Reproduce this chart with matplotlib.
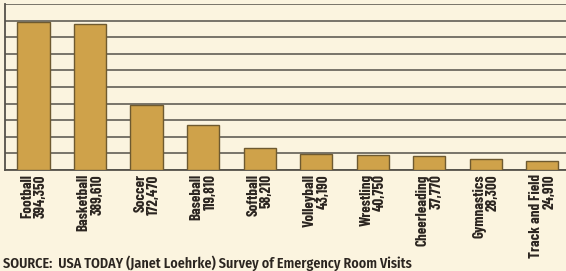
import matplotlib
matplotlib.use("Agg")
import matplotlib.pyplot as plt
import numpy as np
from matplotlib.ticker import MultipleLocator

sports = ["Football", "Basketball", "Soccer", "Baseball", "Softball",
          "Volleyball", "Wrestling", "Cheerleading", "Gymnastics", "Track and Field"]
visits = [394350, 389610, 172470, 119810, 58210, 43190, 40750, 37770, 28300, 24910]
value_labels = ["394,350", "389,610", "172,470", "119,810", "58,210",
                "43,190", "40,750", "37,770", "28,300", "24,910"]
source_text = "SOURCE:  USA TODAY (Janet Loehrke) Survey of Emergency Room Visits"

W, H = 566, 271
dpi = 100
bg = "#fbf4df"
bar_color = "#cfa24a"
edge_color = "#6e5a30"
grid_color = "#55524a"
text_color = "#2b2520"

fig = plt.figure(figsize=(W / dpi, H / dpi), dpi=dpi, facecolor=bg)
ax_left, ax_right = 5 / W, 1.0
ax_bottom, ax_top = 1 - 170 / H, 1 - 4 / H
ax = fig.add_axes([ax_left, ax_bottom, ax_right - ax_left, ax_top - ax_bottom])
ax.set_facecolor(bg)

x = np.arange(len(sports))
ax.bar(x, visits, width=0.57, color=bar_color, edgecolor=edge_color, linewidth=1.0, zorder=3)

ymax = 442300
ax.set_ylim(0, ymax)
ax.set_xlim(-0.505, 9.42)
ax.yaxis.set_major_locator(MultipleLocator(ymax / 10))
ax.grid(axis="y", color=grid_color, linewidth=1.1, zorder=1)
ax.set_axisbelow(True)
ax.set_xticks([])
ax.tick_params(axis="y", length=0, labelleft=False)
for s in ["top", "right"]:
    ax.spines[s].set_visible(False)
ax.spines["left"].set_color(grid_color)
ax.spines["left"].set_linewidth(1.3)
ax.spines["bottom"].set_color(grid_color)
ax.spines["bottom"].set_linewidth(1.3)

lab_font = dict(family=["Barlow Condensed", "DejaVu Sans"], weight="bold")
for xi, name, val in zip(x, sports, value_labels):
    ax.annotate(name, xy=(xi, 0), xycoords="data", xytext=(-4.6, -3), textcoords="offset points",
                rotation=90, ha="center", va="top", fontsize=10.8, color=text_color, **lab_font)
    ax.annotate(val, xy=(xi, 0), xycoords="data", xytext=(5.2, -3), textcoords="offset points",
                rotation=90, ha="center", va="top", fontsize=10.8, color=text_color, **lab_font)

fig.text(3 / W, 1 - 263 / H, source_text, ha="left", va="center", fontsize=10.1,
         color=text_color, family=["Fira Sans Condensed", "DejaVu Sans"], weight="semibold")

fig.savefig("out.png", dpi=dpi, facecolor=bg)
